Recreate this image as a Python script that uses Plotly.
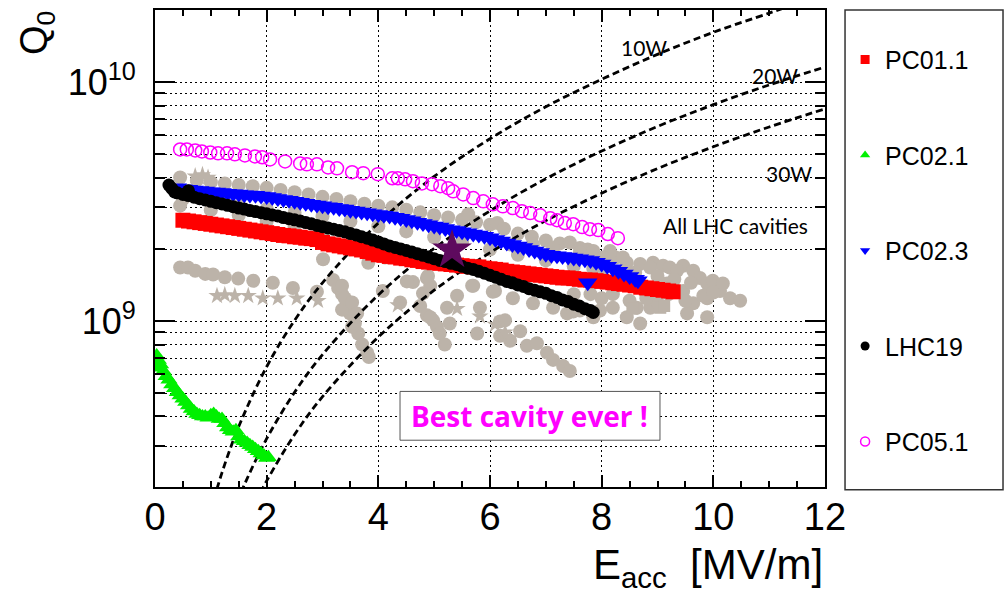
import plotly.graph_objects as go

# ---------------- data (E_acc [MV/m], Q0) ----------------
pc01_x = [0.5, 0.6, 0.7, 0.8, 0.9, 1.0, 1.1, 1.2, 1.3, 1.4, 1.5, 1.6, 1.7, 1.8, 1.9, 2.0, 2.1, 2.2,
          2.3, 2.4, 2.5, 2.6, 2.7, 2.8, 2.9, 3.0, 3.1, 3.2, 3.3, 3.4, 3.5, 3.6, 3.7, 3.8, 3.9, 4.0,
          4.1, 4.2, 4.3, 4.4, 4.5, 4.6, 4.7, 4.8, 4.9, 5.0, 5.1, 5.2, 5.3, 5.4, 5.5, 5.6, 5.7, 5.8,
          5.9, 6.0, 6.1, 6.2, 6.3, 6.4, 6.5, 6.6, 6.7, 6.8, 6.9, 7.0, 7.1, 7.2, 7.3, 7.4, 7.5, 7.6,
          7.7, 7.8, 7.9, 8.0, 8.1, 8.2, 8.3, 8.4, 8.5, 8.6, 8.7, 8.8, 8.9, 9.0, 9.1, 9.2, 9.28]
pc01_q = [2.65e9, 2.63e9, 2.61e9, 2.59e9, 2.57e9, 2.55e9, 2.53e9, 2.51e9, 2.49e9, 2.47e9, 2.45e9,
          2.43e9, 2.41e9, 2.39e9, 2.37e9, 2.35e9, 2.33e9, 2.31e9, 2.29e9, 2.28e9, 2.26e9, 2.25e9,
          2.23e9, 2.22e9, 2.20e9, 2.14e9, 2.11e9, 2.09e9, 2.07e9, 2.05e9, 2.03e9, 2.01e9, 1.99e9,
          1.96e9, 1.93e9, 1.90e9, 1.89e9, 1.87e9, 1.86e9, 1.84e9, 1.83e9, 1.81e9, 1.80e9, 1.78e9,
          1.77e9, 1.76e9, 1.75e9, 1.74e9, 1.73e9, 1.72e9, 1.71e9, 1.70e9, 1.69e9, 1.69e9, 1.67e9,
          1.66e9, 1.65e9, 1.64e9, 1.62e9, 1.61e9, 1.60e9, 1.59e9, 1.58e9, 1.57e9, 1.56e9, 1.55e9,
          1.54e9, 1.53e9, 1.52e9, 1.52e9, 1.51e9, 1.50e9, 1.49e9, 1.49e9, 1.48e9, 1.47e9, 1.46e9,
          1.45e9, 1.44e9, 1.43e9, 1.42e9, 1.41e9, 1.39e9, 1.38e9, 1.37e9, 1.36e9, 1.35e9, 1.34e9,
          1.33e9]

pc021_x = [0.02, 0.03, 0.06, 0.1, 0.15, 0.2, 0.25, 0.3, 0.35, 0.4, 0.45, 0.5, 0.55, 0.6, 0.65,
           0.7, 0.75, 0.8, 0.85, 0.9, 0.95, 1.0, 1.05, 1.1, 1.15, 1.2, 1.25, 1.3, 1.35, 1.4, 1.45,
           1.5, 1.55, 1.6, 1.65, 1.7, 1.75, 1.8, 1.85, 1.9, 1.95, 2.0, 2.03]
pc021_q = [6.4e8, 7.2e8, 6.9e8, 6.6e8, 6.2e8, 5.9e8, 5.7e8, 5.45e8, 5.25e8, 5.05e8, 4.9e8, 4.75e8,
           4.6e8, 4.45e8, 4.3e8, 4.2e8, 4.1e8, 4.05e8, 4.0e8, 4.0e8, 3.95e8, 4.05e8, 4.1e8, 4.0e8,
           3.9e8, 3.9e8, 3.75e8, 3.6e8, 3.5e8, 3.45e8, 3.5e8, 3.3e8, 3.2e8, 3.15e8, 3.1e8, 3.03e8,
           2.98e8, 2.92e8, 2.86e8, 2.8e8, 2.75e8, 2.68e8, 2.7e8]

pc023_x = [0.4, 0.5, 0.6, 0.7, 0.8, 0.9, 1.0, 1.1, 1.2, 1.3, 1.4, 1.5, 1.6, 1.7, 1.8, 1.9, 2.0,
           2.1, 2.2, 2.3, 2.4, 2.5, 2.6, 2.7, 2.8, 2.9, 3.0, 3.1, 3.2, 3.3, 3.4, 3.5, 3.6, 3.7,
           3.8, 3.9, 4.0, 4.1, 4.2, 4.3, 4.4, 4.5, 4.6, 4.7, 4.8, 4.9, 5.0, 5.1, 5.2, 5.3, 5.4,
           5.5, 5.6, 5.7, 5.8, 5.9, 6.0, 6.1, 6.2, 6.3, 6.4, 6.5, 6.6, 6.7, 6.8, 6.9, 7.0, 7.1,
           7.2, 7.3, 7.4, 7.5, 7.6, 7.7, 7.75, 7.8, 7.9, 8.0, 8.1, 8.2, 8.3, 8.4, 8.5, 8.6, 8.65]
pc023_q = [3.62e9, 3.59e9, 3.57e9, 3.55e9, 3.53e9, 3.51e9, 3.49e9, 3.48e9, 3.46e9, 3.44e9, 3.42e9,
           3.41e9, 3.39e9, 3.38e9, 3.37e9, 3.35e9, 3.33e9, 3.30e9, 3.27e9, 3.24e9, 3.21e9, 3.18e9,
           3.15e9, 3.12e9, 3.09e9, 3.07e9, 3.05e9, 3.02e9, 3.00e9, 2.97e9, 2.95e9, 2.92e9, 2.90e9,
           2.87e9, 2.85e9, 2.82e9, 2.80e9, 2.78e9, 2.76e9, 2.73e9, 2.70e9, 2.67e9, 2.64e9, 2.60e9,
           2.57e9, 2.54e9, 2.51e9, 2.48e9, 2.45e9, 2.42e9, 2.40e9, 2.37e9, 2.35e9, 2.32e9, 2.30e9,
           2.27e9, 2.24e9, 2.20e9, 2.17e9, 2.13e9, 2.10e9, 2.07e9, 2.04e9, 2.00e9, 1.97e9, 1.94e9,
           1.91e9, 1.89e9, 1.88e9, 1.87e9, 1.86e9, 1.84e9, 1.83e9, 1.81e9, 1.45e9, 1.80e9, 1.77e9,
           1.74e9, 1.70e9, 1.66e9, 1.62e9, 1.58e9, 1.54e9, 1.50e9, 1.48e9]

lhc19_x = [0.25, 0.3, 0.35, 0.4, 0.5, 0.6, 0.6, 0.7, 0.8, 0.9, 1.0, 1.1, 1.2, 1.3, 1.4, 1.5, 1.6,
           1.7, 1.8, 1.9, 2.0, 2.1, 2.2, 2.3, 2.4, 2.5, 2.6, 2.7, 2.8, 2.9, 3.0, 3.1, 3.2, 3.3,
           3.4, 3.5, 3.6, 3.7, 3.8, 3.9, 4.0, 4.1, 4.2, 4.3, 4.4, 4.5, 4.6, 4.7, 4.8, 4.9, 5.0,
           5.1, 5.2, 5.3, 5.4, 5.5, 5.6, 5.7, 5.8, 5.9, 6.0, 6.1, 6.2, 6.3, 6.4, 6.5, 6.6, 6.7,
           6.8, 6.9, 7.0, 7.1, 7.2, 7.3, 7.4, 7.5, 7.6, 7.7, 7.8, 7.85]
lhc19_q = [3.72e9, 3.60e9, 3.48e9, 3.45e9, 3.40e9, 3.36e9, 3.52e9, 3.31e9, 3.26e9, 3.22e9, 3.18e9,
           3.14e9, 3.10e9, 3.06e9, 3.02e9, 2.98e9, 2.95e9, 2.91e9, 2.88e9, 2.85e9, 2.82e9, 2.79e9,
           2.76e9, 2.72e9, 2.69e9, 2.66e9, 2.63e9, 2.59e9, 2.56e9, 2.52e9, 2.49e9, 2.46e9, 2.43e9,
           2.40e9, 2.37e9, 2.33e9, 2.30e9, 2.26e9, 2.23e9, 2.19e9, 2.15e9, 2.11e9, 2.07e9, 2.04e9,
           2.01e9, 1.98e9, 1.95e9, 1.92e9, 1.89e9, 1.86e9, 1.83e9, 1.80e9, 1.78e9, 1.75e9, 1.73e9,
           1.70e9, 1.67e9, 1.65e9, 1.62e9, 1.59e9, 1.56e9, 1.53e9, 1.50e9, 1.47e9, 1.45e9, 1.42e9,
           1.40e9, 1.37e9, 1.35e9, 1.33e9, 1.31e9, 1.28e9, 1.26e9, 1.23e9, 1.21e9, 1.18e9, 1.16e9,
           1.13e9, 1.11e9, 1.09e9]

pc051_x = [0.45, 0.57, 0.72, 0.84, 0.99, 1.13, 1.29, 1.43, 1.61, 1.79, 1.92, 2.06, 2.33, 2.60,
           2.72, 2.90, 3.10, 3.26, 3.53, 3.73, 3.99, 4.25, 4.35, 4.48, 4.62, 4.78, 4.96, 5.11,
           5.25, 5.34, 5.52, 5.70, 5.88, 6.05, 6.23, 6.41, 6.57, 6.72, 6.90, 7.08, 7.20, 7.34,
           7.49, 7.65, 7.79, 7.94, 8.11, 8.29]
pc051_q = [5.24e9, 5.24e9, 5.19e9, 5.14e9, 5.09e9, 5.05e9, 5.05e9, 5.00e9, 4.95e9, 4.90e9, 4.86e9,
           4.76e9, 4.67e9, 4.58e9, 4.54e9, 4.54e9, 4.41e9, 4.37e9, 4.21e9, 4.17e9, 4.13e9, 3.97e9,
           3.97e9, 3.93e9, 3.86e9, 3.78e9, 3.75e9, 3.68e9, 3.61e9, 3.50e9, 3.40e9, 3.28e9, 3.18e9,
           3.09e9, 3.03e9, 2.98e9, 2.89e9, 2.84e9, 2.78e9, 2.70e9, 2.65e9, 2.58e9, 2.55e9, 2.48e9,
           2.43e9, 2.41e9, 2.32e9, 2.23e9]

best_x = [5.32]
best_q = [1.99e9]

# all LHC cavities (grey)
lhc_circ_x = [0.45, 0.75, 1.0, 1.25, 1.5, 1.75, 2.0, 2.25, 2.5, 2.75, 3.0, 3.25, 3.5, 3.75, 4.0,
              4.25, 4.5, 4.75, 5.0, 5.25, 5.5, 5.61, 5.75, 6.0, 6.13, 6.25, 6.5, 6.75, 7.0, 7.25,
              7.75, 8.25,
              0.5, 1.0, 1.5, 2.0, 2.5, 3.0, 3.5, 4.0, 4.5, 5.0, 5.5, 6.0, 6.5, 7.0, 7.5, 8.0, 8.5,
              0.45, 1.0, 1.5, 2.0, 2.5, 3.0,
              0.45, 0.59, 0.72, 0.90, 1.04, 1.25, 1.49, 1.76, 2.11, 2.47, 2.90, 3.19, 3.28, 3.35,
              3.44, 3.49, 3.58, 3.64, 3.71, 3.80, 3.83, 3.35, 3.53, 3.01, 3.82, 4.12, 3.35, 3.40,
              3.53, 3.62,
              4.62, 4.87, 4.93, 4.80, 4.75, 4.87, 4.98, 5.05, 5.10, 5.19, 5.28, 5.41, 5.68, 5.77,
              6.09, 6.18, 6.27, 6.18, 6.36, 6.54, 6.66, 6.84, 7.02, 7.13, 7.31, 7.43, 4.39, 4.08,
              4.51, 4.89, 5.23, 4.93, 5.82,
              7.43, 7.61, 7.85, 8.15, 8.02, 8.45, 8.69, 8.92, 9.10, 9.22, 9.46, 9.64, 9.76, 9.89,
              9.99, 10.12, 10.30, 10.48, 9.89, 9.64, 9.53, 9.89, 8.87, 8.63, 8.45, 8.69, 8.20, 7.97,
              7.61, 7.38, 8.38, 8.87, 9.82, 10.17, 9.17, 9.35, 8.87, 9.46, 8.0, 8.5, 9.0, 7.5,
              8.3, 8.6, 9.0, 9.3, 9.6, 9.2, 8.8, 9.5, 10.0, 7.8, 8.2,
              5.70, 6.05, 6.41, 6.77, 7.13, 7.49, 7.85,
              6.36, 6.77, 7.13, 7.61, 7.85, 8.10]
lhc_circ_q = [4.0e9, 3.90e9, 3.82e9, 3.78e9, 3.72e9, 3.68e9, 3.62e9, 3.55e9, 3.47e9, 3.40e9,
              3.32e9, 3.25e9, 3.18e9, 3.11e9, 3.05e9, 3.0e9, 2.93e9, 2.86e9, 2.78e9, 2.72e9,
              2.66e9, 2.81e9, 2.60e9, 2.54e9, 2.58e9, 2.44e9, 2.33e9, 2.26e9, 2.18e9, 2.12e9,
              2.0e9, 1.85e9,
              3.25e9, 3.15e9, 3.05e9, 2.95e9, 2.85e9, 2.75e9, 2.62e9, 2.50e9, 2.38e9, 2.25e9, 2.15e9,
              2.0e9, 1.9e9, 1.8e9, 1.7e9, 1.62e9, 1.55e9,
              3.05e9, 2.92e9, 2.78e9, 2.62e9, 2.50e9, 2.36e9,
              1.68e9, 1.68e9, 1.63e9, 1.58e9, 1.57e9, 1.53e9, 1.51e9, 1.48e9, 1.45e9, 1.38e9, 1.33e9,
              1.49e9, 1.38e9, 1.30e9, 1.20e9, 1.08e9, 0.98e9, 0.89e9, 0.80e9, 0.74e9, 0.71e9, 1.12e9,
              0.95e9, 1.82e9, 1.76e9, 1.85e9, 1.41e9, 1.25e9, 1.20e9, 1.08e9,
              1.46e9, 1.52e9, 1.41e9, 1.31e9, 1.16e9, 1.06e9, 1.01e9, 0.95e9, 0.89e9, 0.80e9, 0.98e9,
              1.28e9, 1.41e9, 0.89e9, 1.34e9, 1.00e9, 1.01e9, 0.87e9, 0.83e9, 0.91e9, 0.79e9, 0.81e9,
              0.74e9, 0.69e9, 0.65e9, 0.62e9, 1.20e9, 1.34e9, 1.47e9, 1.55e9, 1.14e9, 1.04e9, 1.14e9,
              2.14e9, 2.03e9, 1.97e9, 1.97e9, 1.85e9, 1.76e9, 1.74e9, 1.76e9, 1.71e9, 1.68e9, 1.71e9,
              1.63e9, 1.52e9, 1.44e9, 1.48e9, 1.34e9, 1.25e9, 1.22e9, 1.25e9, 1.19e9, 1.08e9, 1.04e9,
              1.14e9, 1.14e9, 1.04e9, 0.98e9, 1.14e9, 1.11e9, 1.11e9, 1.08e9, 1.85e9, 1.68e9, 1.28e9,
              1.44e9, 1.44e9, 1.63e9, 1.31e9, 1.34e9, 1.25e9, 1.22e9, 1.20e9, 1.30e9,
              1.55e9, 1.60e9, 1.55e9, 1.50e9, 1.45e9, 1.30e9, 1.25e9, 1.22e9, 1.32e9, 1.30e9, 1.30e9,
              1.41e9, 1.33e9, 1.25e9, 1.19e9, 1.14e9, 1.10e9, 1.04e9,
              2.10e9, 2.10e9, 2.03e9, 1.94e9, 1.66e9, 1.74e9]

lhc_star_x = [0.72, 0.85, 0.95, 1.11, 1.25, 1.43, 1.67, 1.93, 2.20, 2.54, 2.92, 4.35, 5.41, 5.82,
              6.09, 6.27, 6.36]
lhc_star_q = [4.05e9, 4.10e9, 4.0e9, 1.28e9, 1.29e9, 1.28e9, 1.28e9, 1.25e9, 1.25e9, 1.25e9,
              1.22e9, 1.17e9, 1.13e9, 1.05e9, 0.97e9, 0.90e9, 0.85e9]

lhc_sq_x = [8.55, 9.05, 9.12]
lhc_sq_q = [1.13e9, 1.14e9, 1.16e9]

# constant dissipated power lines
p10_x = [1.0, 1.2, 1.5, 2.0, 2.5, 3.0, 4.0, 5.0, 6.0, 7.0, 8.0, 9.0, 10.0, 11.0, 11.5]
p10_q = [1.62e8, 2.33e8, 3.63e8, 6.46e8, 1.01e9, 1.45e9, 2.58e9, 4.04e9, 5.81e9, 7.91e9, 1.03e10,
         1.31e10, 1.62e10, 1.95e10, 2.14e10]
p20_x = [1.4, 1.6, 2.0, 2.5, 3.0, 4.0, 5.0, 6.0, 7.0, 8.0, 9.0, 10.0, 11.0, 12.0]
p20_q = [1.58e8, 2.07e8, 3.23e8, 5.05e8, 7.26e8, 1.29e9, 2.02e9, 2.90e9, 3.95e9, 5.16e9, 6.54e9,
         8.07e9, 9.76e9, 1.16e10]
p30_x = [1.8, 2.0, 2.5, 3.0, 4.0, 5.0, 6.0, 7.0, 8.0, 9.0, 10.0, 11.0, 12.0]
p30_q = [1.74e8, 2.15e8, 3.36e8, 4.84e8, 8.60e8, 1.35e9, 1.94e9, 2.64e9, 3.44e9, 4.36e9, 5.38e9,
         6.51e9, 7.75e9]

series_names = ["PC01.1", "PC02.1", "PC02.3", "LHC19", "PC05.1"]

GREY = "#bcb3a9"
FONT = "Liberation Sans, Arial, sans-serif"
CAL = "Lato, Open Sans, sans-serif"

fig = go.Figure()

# grey: all LHC cavities
fig.add_trace(go.Scatter(x=lhc_circ_x, y=lhc_circ_q, mode="markers", showlegend=False,
                         marker=dict(symbol="circle", size=14, color=GREY)))
fig.add_trace(go.Scatter(x=lhc_star_x, y=lhc_star_q, mode="markers", showlegend=False,
                         marker=dict(symbol="star", size=13, color=GREY)))
fig.add_trace(go.Scatter(x=lhc_sq_x, y=lhc_sq_q, mode="markers", showlegend=False,
                         marker=dict(symbol="square", size=12, color=GREY)))

# iso-power lines
for px_, pq_ in [(p10_x, p10_q), (p20_x, p20_q), (p30_x, p30_q)]:
    fig.add_trace(go.Scatter(x=px_, y=pq_, mode="lines", showlegend=False, hoverinfo="skip",
                             line=dict(color="black", width=2.8, dash="7px,4px", shape="spline")))

styles = {
    "PC01.1": dict(symbol="square", size=15, color="#ff0000"),
    "PC02.1": dict(symbol="triangle-up", size=15, color="#00f000"),
    "PC02.3": dict(symbol="triangle-down", size=17, color="#0000ff"),
    "LHC19": dict(symbol="circle", size=13, color="#000000"),
    "PC05.1": dict(symbol="circle-open", size=13, color="#ff00ff", line=dict(width=1.5, color="#ff00ff")),
}
data = {"PC01.1": (pc01_x, pc01_q), "PC02.1": (pc021_x, pc021_q), "PC02.3": (pc023_x, pc023_q),
        "LHC19": (lhc19_x, lhc19_q), "PC05.1": (pc051_x, pc051_q)}

for name in ["PC01.1", "PC02.1", "PC02.3", "LHC19", "PC05.1"]:
    xs, qs = data[name]
    fig.add_trace(go.Scatter(x=xs, y=qs, mode="markers", name=name, showlegend=False,
                             marker=styles[name]))

fig.add_trace(go.Scatter(x=best_x, y=best_q, mode="markers", showlegend=False,
                         marker=dict(symbol="star", size=30, color="#5e0a5e")))

# legend-only entries (small symbols like the original)
for i, name in enumerate(series_names):
    st = dict(styles[name])
    st["size"] = 9
    fig.add_trace(go.Scatter(x=[None], y=[None], mode="markers", name=name, marker=st,
                             legendgroup=name, legendrank=i + 1, showlegend=True))

yminor = [3e8, 4e8, 5e8, 6e8, 7e8, 8e8, 9e8, 2e9, 3e9, 4e9, 5e9, 6e9, 7e9, 8e9, 9e9]
GRID = dict(gridcolor="black", gridwidth=1, griddash="2px,3px")

fig.update_layout(
    width=1006, height=596,
    margin=dict(l=155, r=181, t=8, b=109),
    paper_bgcolor="white", plot_bgcolor="white",
    font=dict(family=FONT, color="black"),
    showlegend=True,
    legend=dict(x=1.03, y=0.944, xanchor="left", yanchor="top", font=dict(size=25, family=FONT),
                tracegroupgap=60, itemsizing="trace", bgcolor="rgba(0,0,0,0)", borderwidth=0),
    xaxis=dict(range=[0, 12], tick0=0, dtick=2, ticks="inside", ticklen=12, tickwidth=1.5,
               tickcolor="black", showline=True, linewidth=2, linecolor="black", mirror="ticks",
               showgrid=True, zeroline=False, tickfont=dict(size=38, family=FONT),
               ticklabelstandoff=-5,
               minor=dict(dtick=0.5, ticks="inside", ticklen=6, tickcolor="black", showgrid=False),
               **GRID),
    yaxis=dict(type="log", range=[8.307, 10.303], tickvals=[1e9, 1e10],
               ticktext=["10<sup>9</sup>", "10<sup>10</sup>"], ticks="inside", ticklen=20,
               tickwidth=1.5, tickcolor="black", showline=True, linewidth=2, linecolor="black",
               mirror="ticks", showgrid=True, zeroline=False, tickfont=dict(size=36, family=FONT),
               ticklabelstandoff=10,
               minor=dict(tickvals=yminor, ticks="inside", ticklen=10, tickcolor="black",
                          showgrid=True, **GRID),
               **GRID),
)

# legend frame
fig.add_shape(type="rect", xref="paper", yref="paper", x0=1.0299, x1=1.2657, y0=-0.006, y1=1.0,
              line=dict(color="#333333", width=1.5), fillcolor="rgba(0,0,0,0)")

# "Best cavity ever !" box
fig.add_shape(type="rect", xref="paper", yref="paper", x0=0.3657, x1=0.7537, y0=0.0981, y1=0.2004,
              line=dict(color="#555555", width=1), fillcolor="white", layer="above")
fig.add_annotation(x=0.5597, y=0.149, xref="paper", yref="paper", xanchor="center", yanchor="middle",
                   text="<b>Best cavity ever !</b>",
                   showarrow=False, font=dict(size=28, color="#ff00ff", family="Open Sans, sans-serif"))

for txt, ax_, ay_ in [("10W", 0.730, 0.9207), ("20W", 0.9254, 0.8622), ("30W", 0.9463, 0.6576),
                      ("All LHC cavities", 0.8657, 0.5491)]:
    fig.add_annotation(x=ax_, y=ay_, xref="paper", yref="paper", text=txt, showarrow=False,
                       xanchor="center", yanchor="middle",
                       font=dict(size=21, color="black", family=CAL))

# axis titles
fig.add_annotation(x=-0.176, y=0.952, xref="paper", yref="paper", text="Q<sub>0</sub>",
                   xanchor="center", yanchor="middle",
                   textangle=-90, showarrow=False, font=dict(size=38, family=FONT))
fig.add_annotation(x=1.0, y=-0.168, xref="paper", yref="paper", xanchor="right", yanchor="middle",
                   text="E<sub>acc</sub>&nbsp;&nbsp;[MV/m]", showarrow=False,
                   font=dict(size=42, family=FONT))

fig.write_html("out.html")
